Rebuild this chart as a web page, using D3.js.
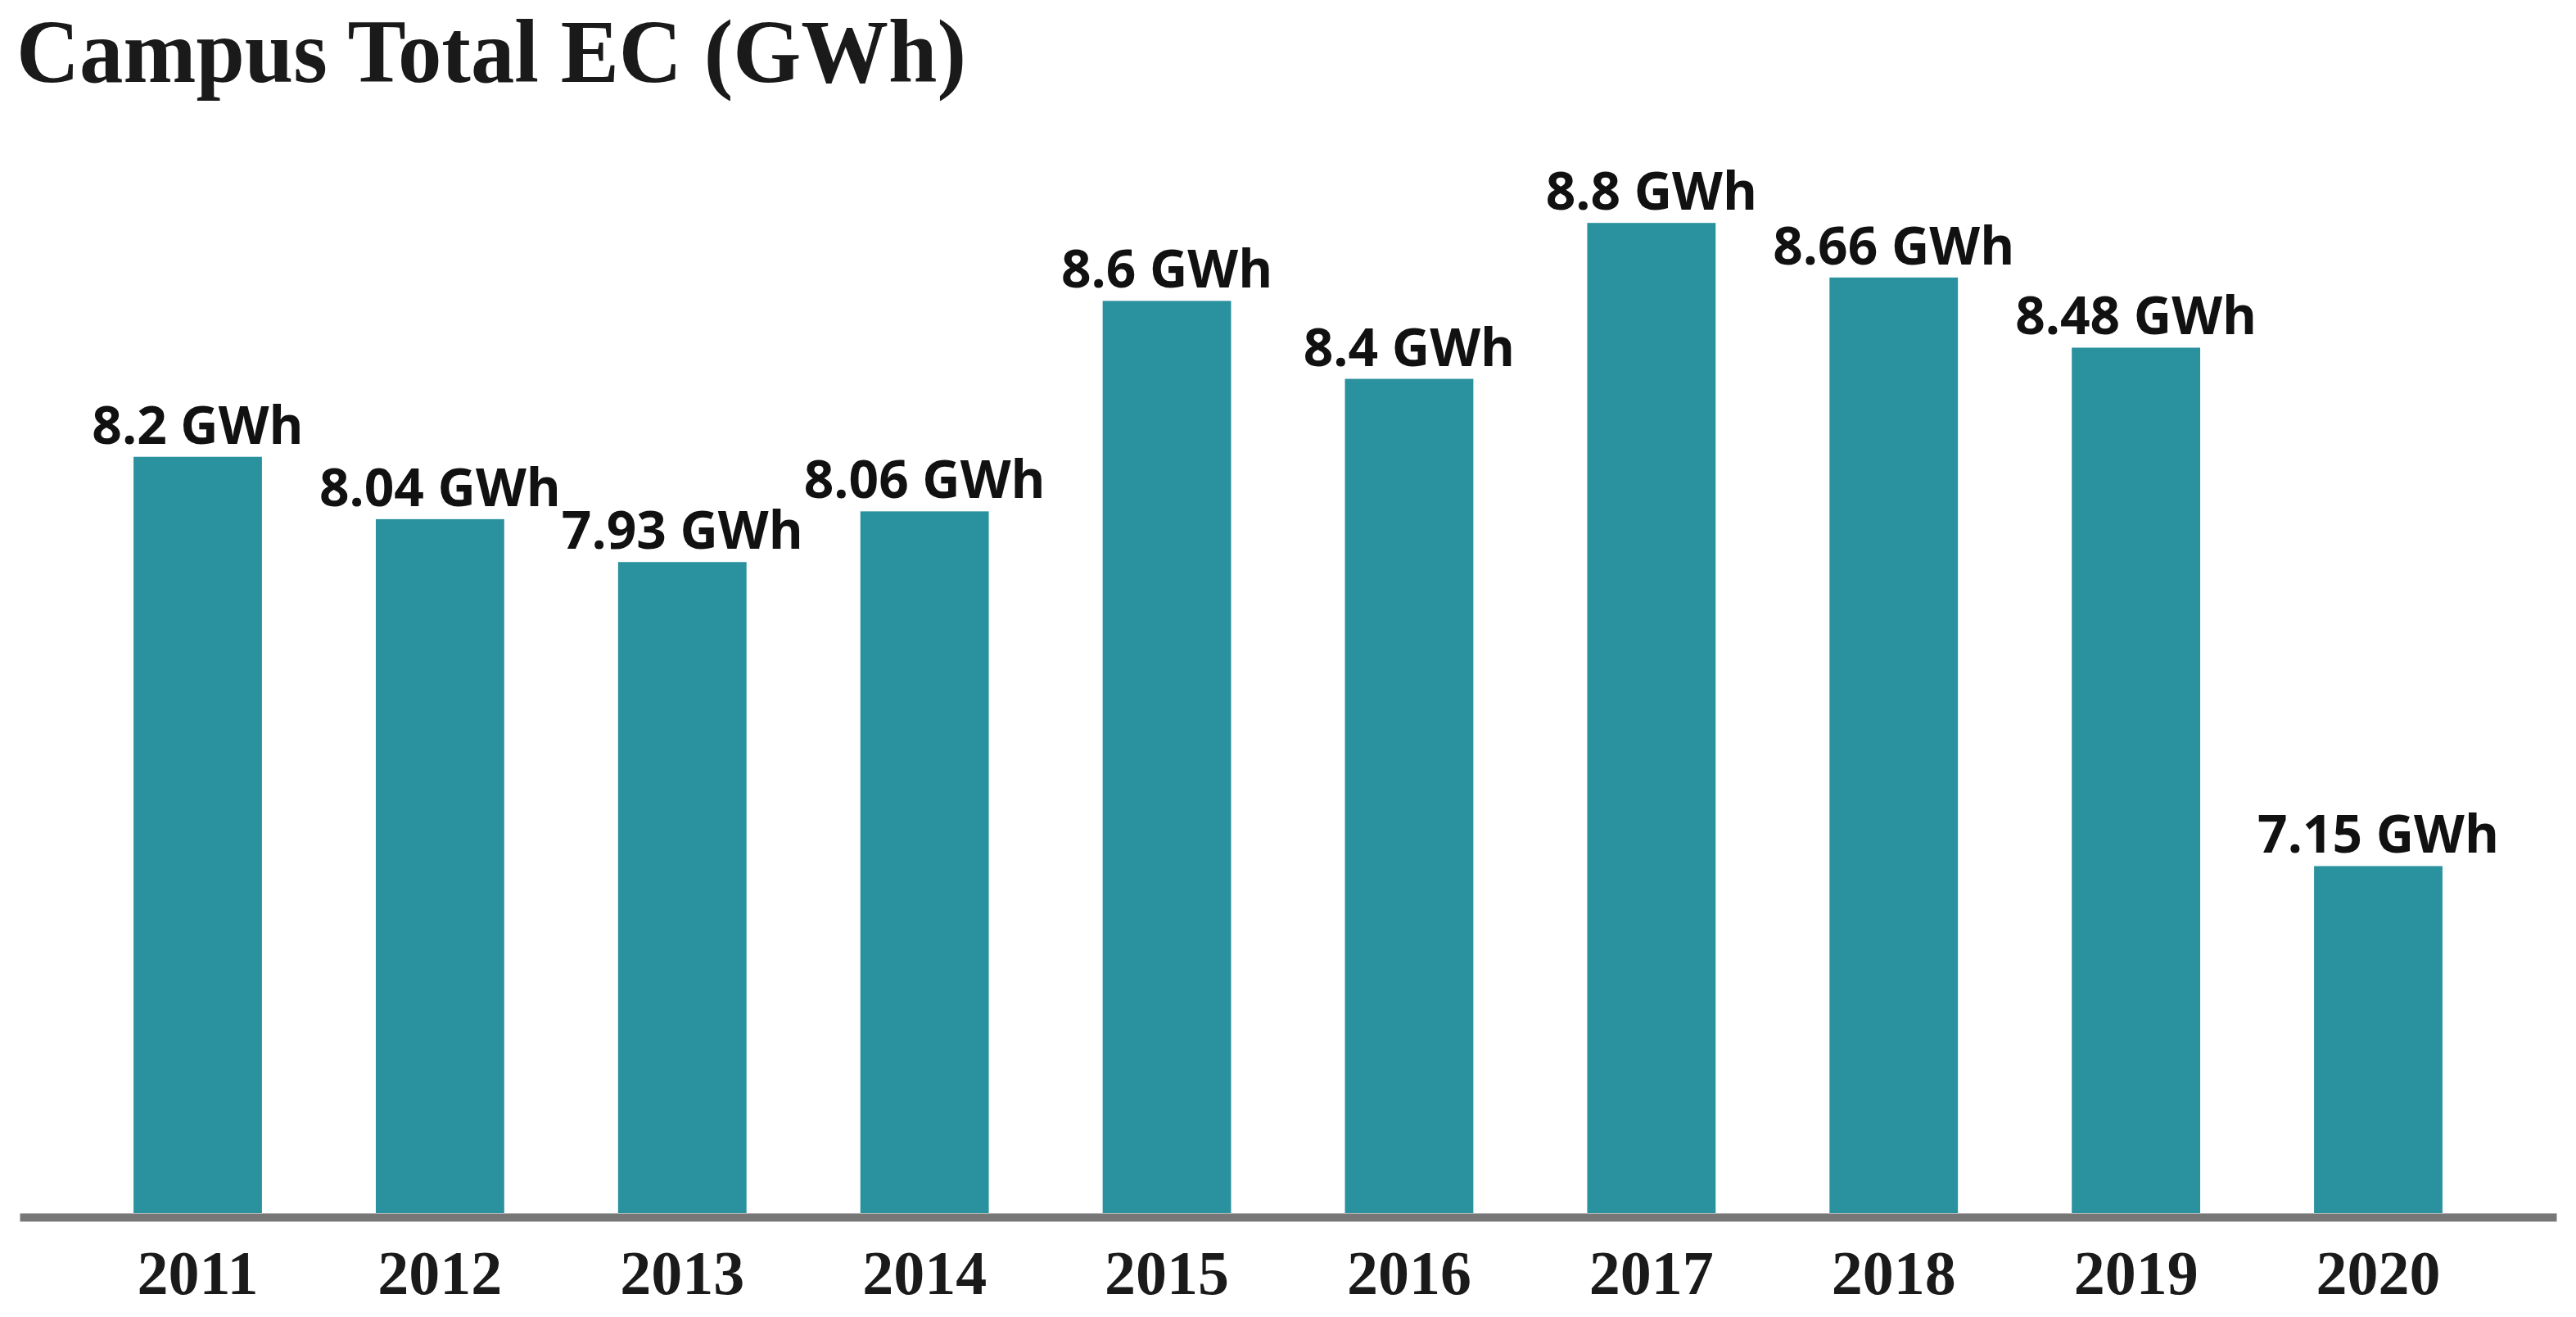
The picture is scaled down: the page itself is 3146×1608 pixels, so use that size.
<!DOCTYPE html>
<html>
<head>
<meta charset="utf-8">
<title>Campus Total EC (GWh)</title>
<script src="https://cdn.jsdelivr.net/npm/d3@7"></script>
<style>
  html, body { margin: 0; padding: 0; background: #ffffff; }
  #chart_div { width: 3146px; height: 1608px; }
  #chart_err { position: absolute; left: 10px; bottom: 10px; color: red; font: 14px sans-serif; }
</style>
</head>
<body>
<div id="chart_div"></div>
<div id="chart_err"></div>
<script>
// Chart data
var years = ["2011", "2012", "2013", "2014", "2015", "2016", "2017", "2018", "2019", "2020"];
var energyGWh = [8.2, 8.04, 7.93, 8.06, 8.6, 8.4, 8.8, 8.66, 8.48, 7.15];
var valueUnit = " GWh";
var chartTitle = "Campus Total EC (GWh)";

var ec = (function (d3) {
  "use strict";

  var loc_divChart = "#chart_div",
      loc_divErr = "#chart_err",
      iWidth = 3146,
      iHeight = 1608;

  // Private methods
  var private_methods = {
    errMsg: function (sMsg, ex) {
      d3.select(loc_divErr).html("Error in [" + sMsg + "]<br>" + ex.message);
    }
  };

  // Public methods
  return {
    /**
     *  drawChart
     *      Draw the bar chart into the chart div
     */
    drawChart: function () {
      var svg = null,
          x = null,
          y = null,
          gAxis = null;

      try {
        svg = d3.select(loc_divChart)
                .append("svg")
                .attr("width", iWidth)
                .attr("height", iHeight);

        // Band scale for the years, linear (truncated) scale for the values
        x = d3.scaleBand()
              .domain(years)
              .range([24, 3122])
              .paddingInner(0.47)
              .paddingOuter(0.47);
        y = d3.scaleLinear()
              .domain([6.26, 9])
              .range([1481, 177]);

        // Title
        svg.append("text")
           .attr("x", 20)
           .attr("y", 100)
           .attr("textLength", 1160)
           .attr("lengthAdjust", "spacingAndGlyphs")
           .style("font-family", "'Liberation Serif', 'DejaVu Serif', serif")
           .style("font-weight", "bold")
           .style("font-size", "110px")
           .style("fill", "#1a1a1a")
           .text(chartTitle);

        // Bars
        svg.append("g")
           .selectAll("rect")
           .data(energyGWh)
           .enter()
           .append("rect")
           .attr("x", function (d, i) { return x(years[i]); })
           .attr("y", function (d) { return y(d); })
           .attr("width", x.bandwidth())
           .attr("height", function (d) { return y.range()[0] - y(d); })
           .style("fill", "#2a919e");

        // Value labels
        svg.append("g")
           .selectAll("text")
           .data(energyGWh)
           .enter()
           .append("text")
           .attr("x", function (d, i) { return x(years[i]) + x.bandwidth() / 2; })
           .attr("y", function (d) { return y(d) - 16; })
           .attr("text-anchor", "middle")
           .style("font-family", "'Open Sans', 'Noto Sans', sans-serif")
           .style("font-weight", "bold")
           .style("font-size", "64px")
           .style("fill", "#111111")
           .text(function (d) { return d + valueUnit; });

        // X axis: thick grey base line with serif year labels
        gAxis = svg.append("g")
                   .attr("transform", "translate(0,1486)")
                   .call(d3.axisBottom(x).tickSize(0).tickSizeOuter(0));
        gAxis.select(".domain")
             .attr("stroke", "#777777")
             .attr("stroke-width", 10);
        gAxis.selectAll("text")
             .attr("y", 94)
             .attr("dy", 0)
             .style("font-family", "'Liberation Serif', 'DejaVu Serif', serif")
             .style("font-weight", "bold")
             .style("font-size", "76px")
             .style("fill", "#1a1a1a");
      } catch (ex) {
        private_methods.errMsg("drawChart", ex);
      }
    }
  };
}(d3));

ec.drawChart();
</script>
</body>
</html>
